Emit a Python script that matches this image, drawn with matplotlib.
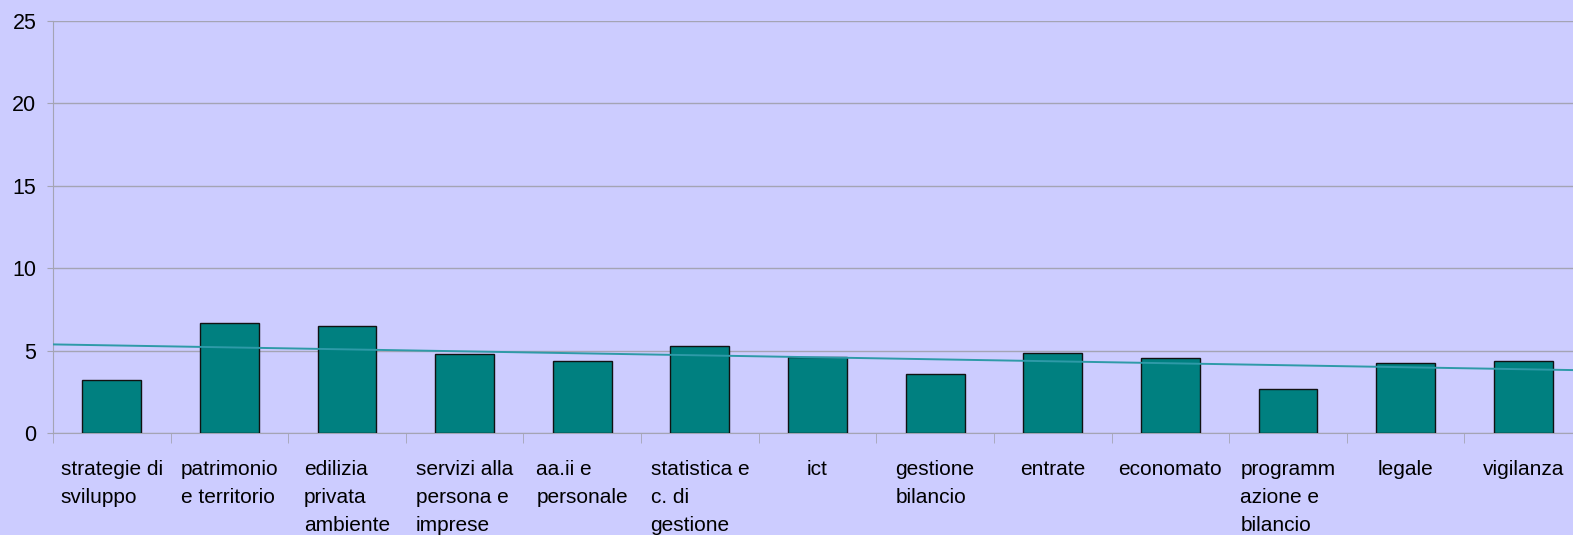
import matplotlib
matplotlib.use("Agg")
from matplotlib import pyplot as plt
import numpy as np

plt.rcParams['font.family'] = ['Liberation Sans', 'DejaVu Sans']

categories = ['strategie di\nsviluppo', 'patrimonio\ne territorio', 'edilizia\nprivata\nambiente',
              'servizi alla\npersona e\nimprese', 'aa.ii e\npersonale', 'statistica e\nc. di\ngestione',
              'ict', 'gestione\nbilancio', 'entrate', 'economato', 'programm\nazione e\nbilancio',
              'legale', 'vigilanza']
values = [3.22, 6.67, 6.49, 4.79, 4.37, 5.28, 4.61, 3.58, 4.85, 4.55, 2.67, 4.25, 4.37]
y_ticks = [0, 5, 10, 15, 20, 25]

bg = '#CCCCFF'
grid_col = '#A4A4B4'

fig = plt.figure(figsize=(15.73, 5.35), dpi=100, facecolor=bg)
# plot area runs slightly past the right edge, as in the original
ax = fig.add_axes([53 / 1573, 102 / 535, 1529 / 1573, 412 / 535], facecolor=bg)

x = np.arange(len(values))
ax.bar(x, values, width=0.5, color='#008080', edgecolor='#111111', linewidth=1, zorder=3)

# linear trend line over the bars
slope, icpt = np.polyfit(x, values, 1)
xt = np.array([-0.5, len(values) - 0.5])
ax.plot(xt, slope * xt + icpt, color='#2E9AA8', linewidth=1.4, zorder=4)

ax.set_xlim(-0.5, len(values) - 0.5)
ax.set_ylim(0, 25)
ax.set_yticks(y_ticks)
ax.yaxis.grid(True, color=grid_col, linewidth=1)
ax.set_axisbelow(True)

ax.set_xticks(x)
ax.set_xticklabels(categories, fontsize=15, ha='center', multialignment='left', linespacing=1.6)
ax.set_xticks(np.arange(len(values) + 1) - 0.5, minor=True)
ax.tick_params(axis='x', which='major', length=0, pad=19.5)
ax.tick_params(axis='x', which='minor', length=7, color=grid_col, direction='out')
ax.tick_params(axis='y', length=4, color=grid_col, pad=8, labelsize=15.5)

for s in ['top', 'right']:
    ax.spines[s].set_visible(False)
ax.spines['left'].set_color(grid_col)
ax.spines['bottom'].set_color(grid_col)

fig.savefig('out.png', dpi=100, facecolor=bg)
